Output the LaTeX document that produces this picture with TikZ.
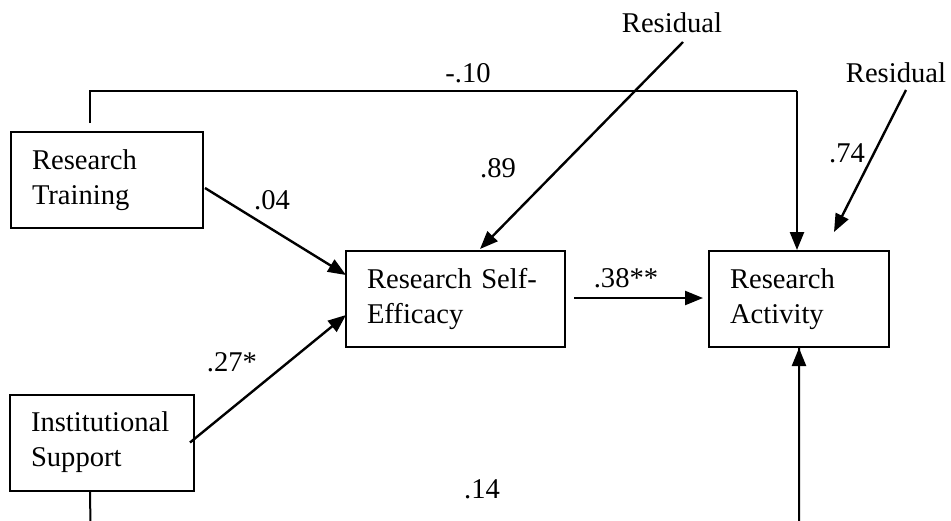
\documentclass[tikz,border=0pt]{standalone}
\usepackage{fontspec}
\setmainfont{Liberation Serif}
\usetikzlibrary{arrows.meta,calc}
\begin{document}
\begin{tikzpicture}[x=1pt,y=-1pt,
  every node/.style={font=\fontsize{28.6pt}{35pt}\selectfont},
  varbox/.style={draw,line width=2pt,inner xsep=0pt,inner ysep=0pt,minimum height=96pt,align=left},
  lbl/.style={inner sep=0pt},
  conn/.style={line width=2pt},
  arr/.style={line width=2.4pt,-{Triangle[length=18pt,width=14pt]}}]
\useasboundingbox (0,0) rectangle (951,520);
\clip (0,0) rectangle (951,520);
% boxes
\node[varbox,minimum width=192pt,text width=150pt] (rt) at (107,180) {Research\\Training};
\node[varbox,minimum width=219pt,text width=177pt] (se) at (455.5,299) {Research Self-\\Efficacy};
\node[varbox,minimum width=180pt,text width=138pt] (ra) at (799,299) {Research\\Activity};
\node[varbox,minimum width=184pt,text width=142pt] (is) at (102,442.5) {Institutional\\Support};
% residual labels
\node[lbl] (res1) at (672,23) {Residual};
\node[lbl] (res2) at (896,73) {Residual};
% coordinates
\coordinate (rtTop) at ($(rt.north west)+(80,-8)$);
\coordinate (corner) at (797,91);
\coordinate (raTop) at ($(ra.north)+(-2,0)$);
\coordinate (r1s) at (683,42);
\coordinate (r1e) at (480,249);
\coordinate (r2s) at (906,90);
\coordinate (r2e) at (834,232);
\coordinate (isBot) at ($(is.south west)+(81,0)$);
\coordinate (low) at (91,560);
\coordinate (raBot) at (ra.south);
% connectors
\draw[conn] (rtTop) |- (corner);
\draw[arr] (corner) -- (raTop);
\draw[arr] ($(rt.east)+(1,8)$) -- ($(se.west)+(1,-24)$);
\draw[arr] ($(is.east)+(-5,0)$) -- ($(se.west)+(1,16)$);
\draw[arr] ($(se.east)+(8,-1)$) -- ($(ra.west)+(-5,-1)$);
\draw[arr] (r1s) -- (r1e);
\draw[arr] (r2s) -- (r2e);
\draw[conn] (isBot) -- (low) -| (raBot);
\draw[arr] (raBot |- low) -- (raBot);
% path labels
\node[lbl] at (468,73) {-.10};
\node[lbl] at (272,200) {.04};
\node[lbl] at (498,168) {.89};
\node[lbl] at (626,278) {.38**};
\node[lbl] at (232,362) {.27*};
\node[lbl] at (482,489) {.14};
\node[lbl] at (847,153) {.74};
\end{tikzpicture}
\end{document}
